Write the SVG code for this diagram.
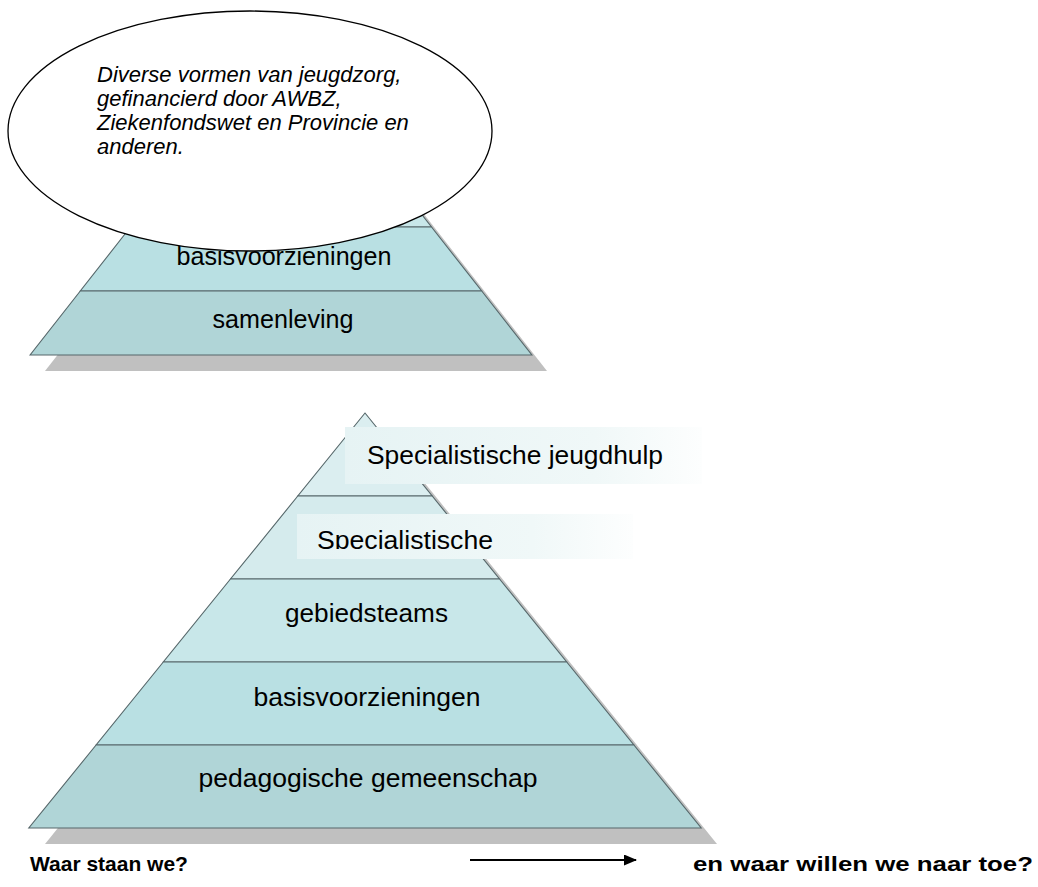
<svg xmlns="http://www.w3.org/2000/svg" width="1038" height="887" viewBox="0 0 1038 887">
<style>
.edge{stroke:#56676a;stroke-width:1.1}
.lbl{font-family:"Liberation Sans",Arial,sans-serif;font-size:25px;fill:#000}
.bold{font-family:"Liberation Sans",Arial,sans-serif;font-weight:bold;font-size:21px;fill:#000}
.note{font-family:"Liberation Sans",Arial,sans-serif;font-size:22px;font-style:italic;fill:#000}
.shadow{fill:#c0c0c0}
</style>
<defs>
<linearGradient id="boxg" x1="0" y1="0" x2="1" y2="0">
<stop offset="0" stop-color="#e6f3f4"/>
<stop offset="0.7" stop-color="#f0f8f8"/>
<stop offset="1" stop-color="#fdfefe"/>
</linearGradient>
<clipPath id="clipSpec"><rect x="290" y="505" width="350" height="44"/></clipPath>
<marker id="arr" markerWidth="13" markerHeight="11" refX="12" refY="5.5" orient="auto" markerUnits="userSpaceOnUse">
<path d="M0,0 L13,5.5 L0,11 z" fill="#000"/>
</marker>
</defs>

<g id="top-pyramid">
<polygon class="shadow" points="296,51 547,371 45,371"/>
<polygon points="281,35 331.2,99 230.8,99" fill="#dbeef0" class="edge"/>
<polygon points="230.8,99 331.2,99 381.4,163 180.6,163" fill="#d5ebed" class="edge"/>
<polygon points="180.6,163 381.4,163 431.5,227 130.5,227" fill="#c8e7e9" class="edge"/>
<polygon points="130.5,227 431.5,227 481.7,291 80.3,291" fill="#b9e0e3" class="edge"/>
<polygon points="80.3,291 481.7,291 531.9,355 30.1,355" fill="#b0d5d7" class="edge"/>
<text class="lbl" x="284" y="265" text-anchor="middle" textLength="215" lengthAdjust="spacingAndGlyphs">basisvoorzieningen</text>
<text class="lbl" x="283" y="328" text-anchor="middle" textLength="141" lengthAdjust="spacingAndGlyphs">samenleving</text>
</g>

<g id="note-ellipse">
<ellipse cx="250" cy="131" rx="242" ry="120" fill="#fff" stroke="#000" stroke-width="1.3"/>
<text class="note" x="97" y="82">Diverse vormen van jeugdzorg,</text>
<text class="note" x="97" y="106">gefinancierd door AWBZ,</text>
<text class="note" x="97" y="130">Ziekenfondswet en Provincie en</text>
<text class="note" x="97" y="154">anderen.</text>
</g>

<g id="bottom-pyramid">
<polygon class="shadow" points="381,429 717,844 45,844"/>
<polygon points="365,413 432.2,496 297.8,496" fill="#dbeef0" class="edge"/>
<polygon points="297.8,496 432.2,496 499.5,579 230.5,579" fill="#d5ebed" class="edge"/>
<polygon points="230.5,579 499.5,579 566.7,662 163.3,662" fill="#c8e7e9" class="edge"/>
<polygon points="163.3,662 566.7,662 633.9,745 96.1,745" fill="#b9e0e3" class="edge"/>
<polygon points="96.1,745 633.9,745 701.2,828 28.8,828" fill="#b0d5d7" class="edge"/>
<text class="lbl" x="366.5" y="622" text-anchor="middle" textLength="163" lengthAdjust="spacingAndGlyphs">gebiedsteams</text>
<text class="lbl" x="367" y="706" text-anchor="middle" textLength="227" lengthAdjust="spacingAndGlyphs">basisvoorzieningen</text>
<text class="lbl" x="368" y="787" text-anchor="middle" textLength="339" lengthAdjust="spacingAndGlyphs">pedagogische gemeenschap</text>
</g>

<g id="box-jeugdhulp">
<rect x="345" y="427" width="357" height="57" fill="url(#boxg)"/>
<text class="lbl" x="367" y="464" textLength="296" lengthAdjust="spacingAndGlyphs">Specialistische jeugdhulp</text>
</g>

<g id="box-specialistische">
<rect x="297" y="514" width="336" height="45" fill="url(#boxg)"/>
<text class="lbl" x="317" y="549" textLength="176" lengthAdjust="spacingAndGlyphs" clip-path="url(#clipSpec)">Specialistische</text>
</g>

<g id="connectors">
<line x1="470" y1="860" x2="636" y2="860" stroke="#000" stroke-width="2" marker-end="url(#arr)"/>
</g>

<g id="captions">
<text class="bold" x="30" y="871">Waar staan we?</text>
<text class="bold" x="693" y="871" textLength="340" lengthAdjust="spacingAndGlyphs">en waar willen we naar toe?</text>
</g>
</svg>
